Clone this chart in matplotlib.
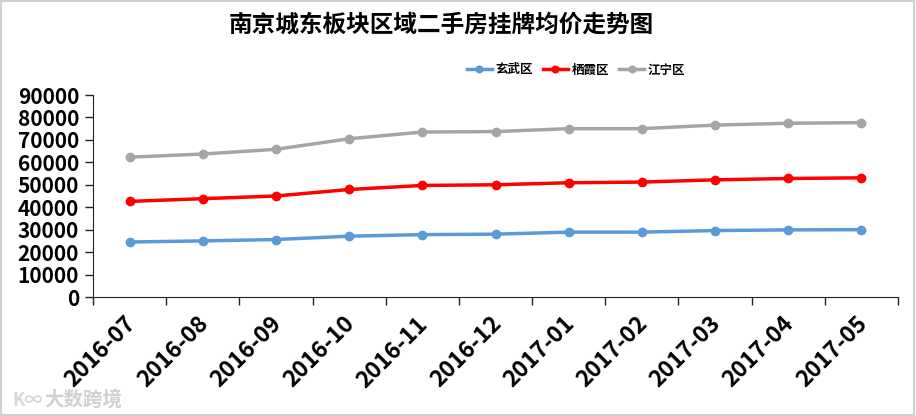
import numpy as np
import matplotlib.pyplot as plt
import matplotlib.transforms as mtransforms
from matplotlib.patches import Rectangle

plt.rcParams['font.family'] = ['Noto Sans CJK SC', 'DejaVu Sans']

# 月份
months = ["2016-07", "2016-08", "2016-09", "2016-10", "2016-11", "2016-12",
          "2017-01", "2017-02", "2017-03", "2017-04", "2017-05"]

# 挂牌均价 (元/平)
xuanwu = [24500, 25000, 25600, 27100, 27800, 28000, 28900, 28900, 29600, 29900, 30000]
qixia = [42600, 43800, 45000, 47900, 49700, 50000, 50900, 51200, 52200, 52800, 53100]
jiangning = [62300, 63700, 65800, 70500, 73500, 73700, 75000, 75000, 76600, 77400, 77700]

series = [("玄武区", xuanwu, "#5b9bd5"),
          ("栖霞区", qixia, "#ff0000"),
          ("江宁区", jiangning, "#a5a5a5")]

fig = plt.figure(figsize=(9.16, 4.16), dpi=100)
ax = fig.add_axes([93/916, 1-297/416, 805/916, 202/416])

x = np.arange(len(months))
for name, vals, c in series:
    ax.plot(x, vals, color=c, lw=2.5, marker='o', ms=6, label=name)

ax.set_xlim(-0.5, len(months)-0.5)
ax.set_ylim(0, 90000)
ax.set_yticks(np.arange(0, 90001, 10000))
ax.set_yticklabels([str(v) for v in range(0, 90001, 10000)],
                   fontsize=15, fontweight='bold')

# tick marks at category boundaries, labels at centers
ax.set_xticks(x)
ax.set_xticklabels(months, rotation=45, ha='right', rotation_mode='anchor',
                   fontsize=16.5, fontweight='bold')
ax.set_xticks(np.arange(-0.5, len(months), 1), minor=True)
ax.tick_params(axis='x', which='major', length=0, pad=11)
ax.tick_params(axis='x', which='minor', length=6, width=1, color='#222222')
ax.tick_params(axis='y', length=6, width=1, color='#222222', pad=4)

# nudge x labels a little to the left
shift = mtransforms.ScaledTranslation(-6/100, 0, fig.dpi_scale_trans)
for lab in ax.get_xticklabels():
    lab.set_transform(lab.get_transform() + shift)

for s in ['top', 'right']:
    ax.spines[s].set_visible(False)
for s in ['left', 'bottom']:
    ax.spines[s].set_color('#222222')

fig.text(441/916, 1-25/416, "南京城东板块区域二手房挂牌均价走势图",
         ha='center', va='center', fontsize=17, fontweight='bold')

ax.legend(loc='center', bbox_to_anchor=(576/916, 1-70/416),
          bbox_transform=fig.transFigure, ncol=3, frameon=False,
          prop={'size': 9, 'weight': 'bold'}, handlelength=2.0,
          columnspacing=0.8, handletextpad=0.3, markerscale=0.8)

# watermark
fig.text(12/916, 1-400/416, "K∞", fontsize=13, color='#d8d8d8',
         fontweight='bold', va='center', ha='left')
fig.text(44/916, 1-400/416, "大数跨境", fontsize=14, color='#d0d0d0',
         fontweight='bold', va='center', ha='left')

fig.patches.append(Rectangle((0.001, 0.002), 0.997, 0.995, transform=fig.transFigure,
                             fill=False, edgecolor='#d0d0d0', lw=1.5))

fig.savefig("out.png", dpi=100)
